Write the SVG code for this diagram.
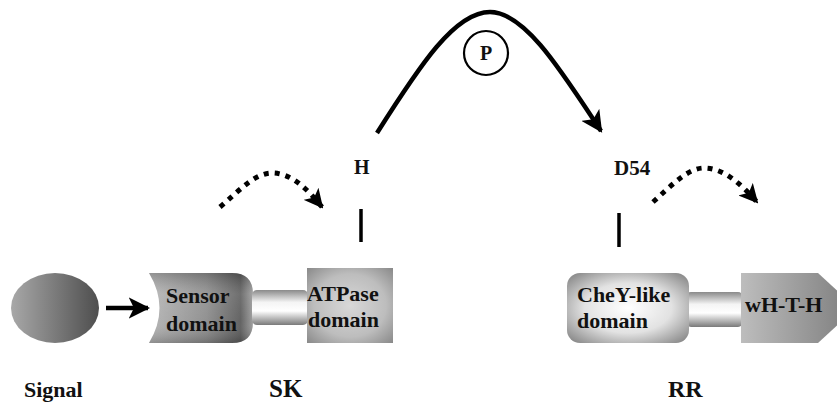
<svg xmlns="http://www.w3.org/2000/svg" width="837" height="403" viewBox="0 0 837 403">
  <style>
    .lbl { font-family: "Liberation Serif", "Times New Roman", serif; font-weight: bold; fill: #111; }
    .solid { fill: none; stroke: #000; stroke-width: 4.5; stroke-linecap: butt; }
    .dots { fill: none; stroke: #000; stroke-width: 5; stroke-dasharray: 5 6; }
    .tick { stroke: #000; stroke-width: 3.5; }
  </style>
  <defs>
    <linearGradient id="gSignal" x1="0" y1="0" x2="1" y2="0">
      <stop offset="0" stop-color="#a8a8a8"/>
      <stop offset="1" stop-color="#4e4e4e"/>
    </linearGradient>
    <linearGradient id="gSensor" x1="0" y1="0" x2="1" y2="0">
      <stop offset="0" stop-color="#b4b4b4"/>
      <stop offset="0.55" stop-color="#8c8c8c"/>
      <stop offset="0.88" stop-color="#5c5c5c"/>
      <stop offset="1" stop-color="#9a9a9a"/>
    </linearGradient>
    <linearGradient id="gSensorV" x1="0" y1="0" x2="0" y2="1">
      <stop offset="0" stop-color="#000" stop-opacity="0.18"/>
      <stop offset="0.3" stop-color="#fff" stop-opacity="0.12"/>
      <stop offset="0.7" stop-color="#fff" stop-opacity="0.05"/>
      <stop offset="1" stop-color="#000" stop-opacity="0.2"/>
    </linearGradient>
    <linearGradient id="gLink" x1="0" y1="0" x2="0" y2="1">
      <stop offset="0" stop-color="#8a8a8a"/>
      <stop offset="0.35" stop-color="#f4f4f4"/>
      <stop offset="0.6" stop-color="#ffffff"/>
      <stop offset="1" stop-color="#7a7a7a"/>
    </linearGradient>
    <radialGradient id="gATP" cx="0.5" cy="0.5" r="0.7">
      <stop offset="0" stop-color="#d8d8d8"/>
      <stop offset="0.6" stop-color="#bdbdbd"/>
      <stop offset="1" stop-color="#8a8a8a"/>
    </radialGradient>
    <radialGradient id="gCheY" cx="0.5" cy="0.5" r="0.65">
      <stop offset="0" stop-color="#ffffff"/>
      <stop offset="0.55" stop-color="#e2e2e2"/>
      <stop offset="1" stop-color="#8c8c8c"/>
    </radialGradient>
    <linearGradient id="gHTH" x1="0" y1="0" x2="1" y2="0">
      <stop offset="0" stop-color="#bdbdbd"/>
      <stop offset="1" stop-color="#7c7c7c"/>
    </linearGradient>
    <marker id="headSolid" viewBox="0 0 10 10" refX="9" refY="5" markerWidth="4.8" markerHeight="4.8" orient="auto" markerUnits="strokeWidth">
      <path d="M0,0 L10,5 L0,10 L2.5,5 Z" fill="#000"/>
    </marker>
    <marker id="headDots" viewBox="0 0 10 10" refX="9" refY="5" markerWidth="3.8" markerHeight="3.8" orient="auto" markerUnits="strokeWidth">
      <path d="M0,0 L10,5 L0,10 L2.5,5 Z" fill="#000"/>
    </marker>
  </defs>

  <!-- connectors -->
  <g id="connectors">
    <path class="solid" d="M106,308 L148,308" marker-end="url(#headSolid)"/>
    <path class="solid" d="M377,133 C420,65 455,12 490,12 C525,12 562,72 601,131" marker-end="url(#headSolid)"/>
    <path class="dots" d="M220,207 C240,190 255,173 272,173 C292,173 308,190 322,207" marker-end="url(#headDots)"/>
    <path class="dots" d="M653,202 C672,185 688,168 704,168 C724,168 742,185 757,202" marker-end="url(#headDots)"/>
    <line class="tick" x1="361" y1="209" x2="361" y2="242"/>
    <line class="tick" x1="619" y1="213" x2="619" y2="247"/>
  </g>

  <g id="signal">
    <ellipse cx="55" cy="308" rx="44" ry="35" fill="url(#gSignal)"/>
    <text class="lbl" x="24" y="397" font-size="22">Signal</text>
  </g>

  <g id="sensor-domain">
    <path d="M149,273 L232,273 Q253,273 253,294 L253,322 Q253,343 232,343 L149,343 Q170,308 149,273 Z" fill="url(#gSensor)"/>
    <path d="M149,273 L232,273 Q253,273 253,294 L253,322 Q253,343 232,343 L149,343 Q170,308 149,273 Z" fill="url(#gSensorV)"/>
    <text class="lbl" x="166" y="303" font-size="22">Sensor</text>
    <text class="lbl" x="166" y="331" font-size="22">domain</text>
  </g>

  <g id="sk-linker">
    <rect x="252" y="290" width="56" height="35" rx="5" fill="url(#gLink)"/>
  </g>

  <g id="atpase-domain">
    <rect x="307" y="268" width="86" height="75" fill="url(#gATP)"/>
    <text class="lbl" x="307" y="301" font-size="22">ATPase</text>
    <text class="lbl" x="308" y="327" font-size="22">domain</text>
  </g>

  <g id="sk-label">
    <text class="lbl" x="269" y="397" font-size="25">SK</text>
  </g>

  <g id="site-h">
    <text class="lbl" x="354" y="174" font-size="20">H</text>
  </g>

  <g id="phosphoryl">
    <circle cx="486" cy="53" r="22" fill="#fff" stroke="#000" stroke-width="2.2"/>
    <text class="lbl" x="486" y="60" font-size="20" text-anchor="middle">P</text>
  </g>

  <g id="site-d54">
    <text class="lbl" x="614" y="175" font-size="21">D54</text>
  </g>

  <g id="rr-linker">
    <rect x="686" y="292" width="57" height="35" rx="5" fill="url(#gLink)"/>
  </g>

  <g id="chey-domain">
    <rect x="567" y="273" width="122" height="70" rx="13" fill="url(#gCheY)"/>
    <text class="lbl" x="577" y="302" font-size="22">CheY-like</text>
    <text class="lbl" x="577" y="328" font-size="22">domain</text>
  </g>

  <g id="wHTH-domain">
    <path d="M741,273 L818,273 L856,308 L818,343 L741,343 Z" fill="url(#gHTH)"/>
    <text class="lbl" x="745" y="312" font-size="22">wH-T-H</text>
  </g>

  <g id="rr-label">
    <text class="lbl" x="668" y="397" font-size="24">RR</text>
  </g>
</svg>
